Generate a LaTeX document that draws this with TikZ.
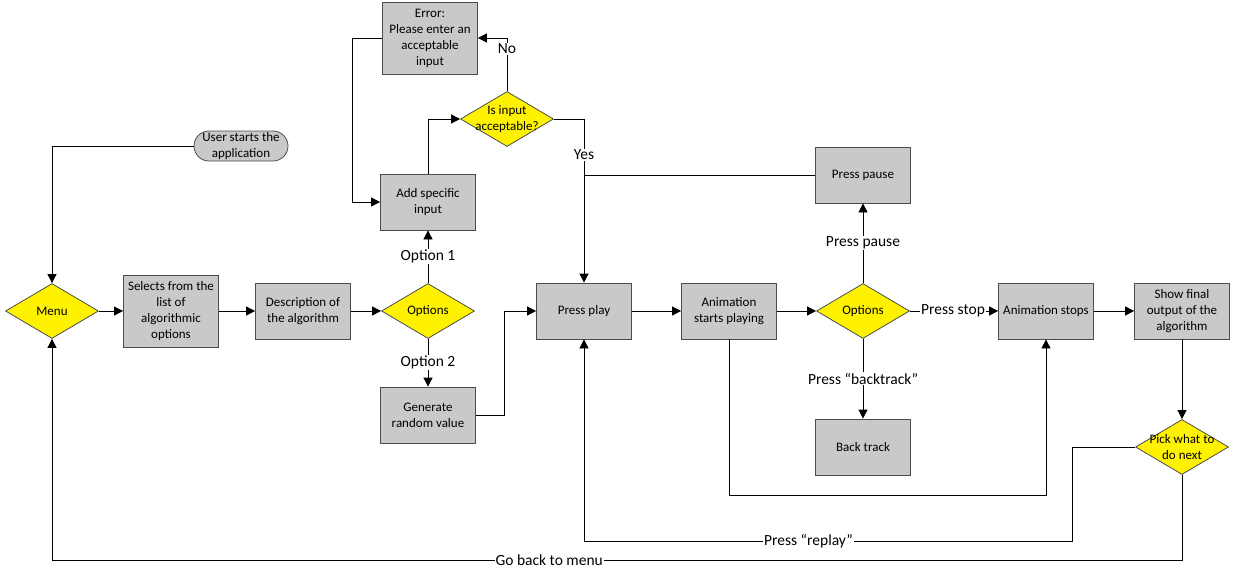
\documentclass[tikz,border=0pt]{standalone}
\usepackage{fontspec}
\setmainfont{Carlito}
\usetikzlibrary{shapes.geometric,arrows.meta}
\begin{document}
\begin{tikzpicture}[x=1pt,y=-1pt,
 box/.style={draw=black!70, fill=black!21, line width=0.8pt, minimum width=95pt, minimum height=56pt, inner sep=1pt, align=center, font=\fontsize{13}{16}\selectfont},
 pill/.style={box, rounded corners=15pt, minimum width=94pt, minimum height=30pt},
 dia/.style={diamond, draw=black!70, fill=yellow, line width=0.8pt, minimum width=93pt, minimum height=55pt, inner sep=0pt},
 dtext/.style={font=\fontsize{13}{16}\selectfont, align=center},
 lbl/.style={fill=white, inner sep=1pt, font=\fontsize{15.5}{17}\selectfont},
 arr/.style={-{Triangle[length=9pt,width=9pt]}, line width=0.8pt},
 ln/.style={line width=0.8pt}]
\useasboundingbox (0,0) rectangle (1236,578);

% nodes
\node[pill] (start) at (241,146) {User starts the\\application};
\node[dia, label={[dtext]center:Menu}] (menu) at (52,311) {};
\node[box, minimum height=72pt] (sel) at (171,311) {Selects from the\\list of\\algorithmic\\options};
\node[box] (desc) at (303,311) {Description of\\the algorithm};
\node[dia, label={[dtext]center:Options}] (opt1) at (428,311) {};
\node[box] (add) at (428,202) {Add specific\\input};
\node[box] (gen) at (428,415) {Generate\\random value};
\node[dia, label={[dtext]center:Is input\\acceptable?}] (isin) at (507,119) {};
\node[box, minimum height=72pt] (err) at (430,38) {Error:\\Please enter an\\acceptable\\input};
\node[box] (play) at (584,311) {Press play};
\node[box] (anim) at (729,311) {Animation\\starts playing};
\node[dia, label={[dtext]center:Options}] (opt2) at (863,311) {};
\node[box] (pause) at (863,175) {Press pause};
\node[box] (back) at (863,447) {Back track};
\node[box] (stops) at (1046,311) {Animation stops};
\node[box] (final) at (1182,311) {Show final\\output of the\\algorithm};
\node[dia, label={[dtext]center:Pick what to\\do next}] (pick) at (1182,447) {};

\coordinate (rp) at (584,541);
\coordinate (gb) at (52,560);

% connectors
\draw[arr] (start.west) -| (menu.north);
\draw[arr] (menu) -- (sel);
\draw[arr] (sel) -- (desc);
\draw[arr] (desc) -- (opt1);
\draw[arr] (opt1) -- node[lbl]{Option 1} (add);
\draw[arr] (opt1) -- node[lbl]{Option 2} (gen);
\draw[arr] (add.north) |- (isin.west);
\draw[arr] (isin.north) |- node[lbl,pos=0.4]{No} (err.east);
\draw[arr] (err.west) -- ++(-30,0) |- (add.west);
\draw[arr] (isin.east) -| node[lbl,pos=0.61]{Yes} (play.north);
\draw[ln] (pause.west) -- (pause.west -| play.north);
\draw[arr] (gen.east) -- ++(28,0) |- (play.west);
\draw[arr] (play) -- (anim);
\draw[arr] (anim) -- (opt2);
\draw[arr] (opt2) -- node[lbl]{Press pause} (pause);
\draw[arr] (opt2) -- node[lbl]{Press “backtrack”} (back);
\draw[arr] (opt2) -- node[lbl,xshift=-1pt]{Press stop} (stops);
\draw[arr] (anim.south) -- ++(0,156) -| (stops.south);
\draw[arr] (stops) -- (final);
\draw[arr] (final) -- (pick);
\draw[arr] (pick.west) -- ++(-63,0) |- node[lbl,pos=0.77]{Press “replay”} (rp) -- (play.south);
\draw[arr] (pick.south) |- node[lbl,pos=0.78]{Go back to menu} (gb) -- (menu.south);
\end{tikzpicture}
\end{document}
